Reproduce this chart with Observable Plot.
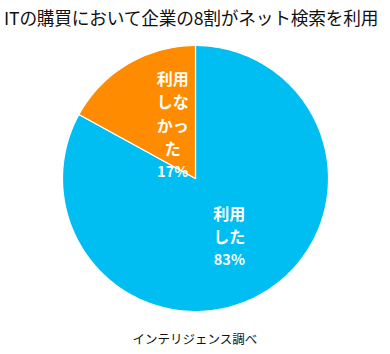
<!DOCTYPE html>
<html>
<head>
<meta charset="utf-8">
<script src="https://cdn.jsdelivr.net/npm/d3@7"></script>
<script src="https://cdn.jsdelivr.net/npm/@observablehq/plot@0.6"></script>
<style>
  body { margin: 0; background: #fff; font-family: "Noto Sans CJK JP", "Noto Sans", sans-serif; }
  #wrap { width: 390px; height: 354px; overflow: hidden; }
  .title { height: 34px; line-height: 34px; font-size: 17.7px; color: #111; padding-left: 4px; white-space: nowrap; letter-spacing: -0.2px; }
  .caption { height: 30px; line-height: 30px; font-size: 12.5px; color: #111; text-align: center; }
  svg { display: block; }
</style>
</head>
<body>
<div id="wrap">
  <div class="title">ITの購買において企業の8割がネット検索を利用</div>
  <div id="chart"></div>
  <div class="caption">インテリジェンス調べ</div>
</div>
<script>
// Data
const categories = ["利用した", "利用しなかった"];
const values = [83, 17];
const labelLines = [["利用", "した"], ["利用", "しな", "かっ", "た"]];
const percentLabels = ["83%", "17%"];
const colors = ["#00BEF2", "#FF8C00"];

// Chart geometry
const W = 390, H = 290, R = 133, CY = 144;
const total = d3.sum(values);
let acc = 0;
const slices = values.map((v, i) => {
  const a0 = acc / total * 2 * Math.PI;
  acc += v;
  const a1 = acc / total * 2 * Math.PI;
  return {cat: categories[i], a0, a1};
});

// polygon points for each slice (angles clockwise from 12 o'clock)
const pts = [];
slices.forEach(s => {
  const n = Math.max(2, Math.ceil((s.a1 - s.a0) / (Math.PI / 180)));
  pts.push({cat: s.cat, x: 0, y: 0});
  for (let k = 0; k <= n; k++) {
    const a = s.a0 + (s.a1 - s.a0) * k / n;
    pts.push({cat: s.cat, x: R * Math.sin(a), y: R * Math.cos(a)});
  }
  pts.push({cat: s.cat, x: 0, y: 0});
});

// label placement
const labelOffset = {"利用した": {dx: 0, dy: 0, r: 0.5}, "利用しなかった": {dx: 11, dy: -3, r: 0.5}};
const lineH = 23.3, fs = 16;
const names = [], pcts = [];
slices.forEach((s, i) => {
  const m = (s.a0 + s.a1) / 2;
  const o = labelOffset[s.cat];
  const cx = R * o.r * Math.sin(m) + o.dx;
  const cy = R * o.r * Math.cos(m) + o.dy;
  const n = labelLines[i].length + 1;
  const top = cy + (n - 1) / 2 * lineH;          // center y of first line
  const nameCenter = top - (labelLines[i].length - 1) / 2 * lineH;
  names.push({x: cx, y: nameCenter, t: labelLines[i].join("\n")});
  pcts.push({x: cx, y: top - (n - 1) * lineH - 1.5, t: percentLabels[i]});
});

const chart = Plot.plot({
  width: W,
  height: H,
  margin: 0,
  x: {domain: [-W / 2, W / 2], range: [0, W], axis: null},
  y: {domain: [CY - H, CY], range: [H, 0], axis: null},
  color: {domain: categories, range: colors},
  marks: [
    Plot.line(pts, {x: "x", y: "y", z: "cat", fill: "cat", stroke: "white", strokeWidth: 1.2, curve: "linear"}),
    Plot.text(names, {x: "x", y: "y", text: "t", fill: "white", fontSize: fs, lineHeight: lineH / fs, fontWeight: "bold", fontFamily: "Noto Sans CJK JP"}),
    Plot.text(pcts, {x: "x", y: "y", text: "t", fill: "white", fontSize: 14.5, fontWeight: "bold", fontFamily: "Noto Sans CJK JP"})
  ]
});
document.getElementById("chart").appendChild(chart);
</script>
</body>
</html>
